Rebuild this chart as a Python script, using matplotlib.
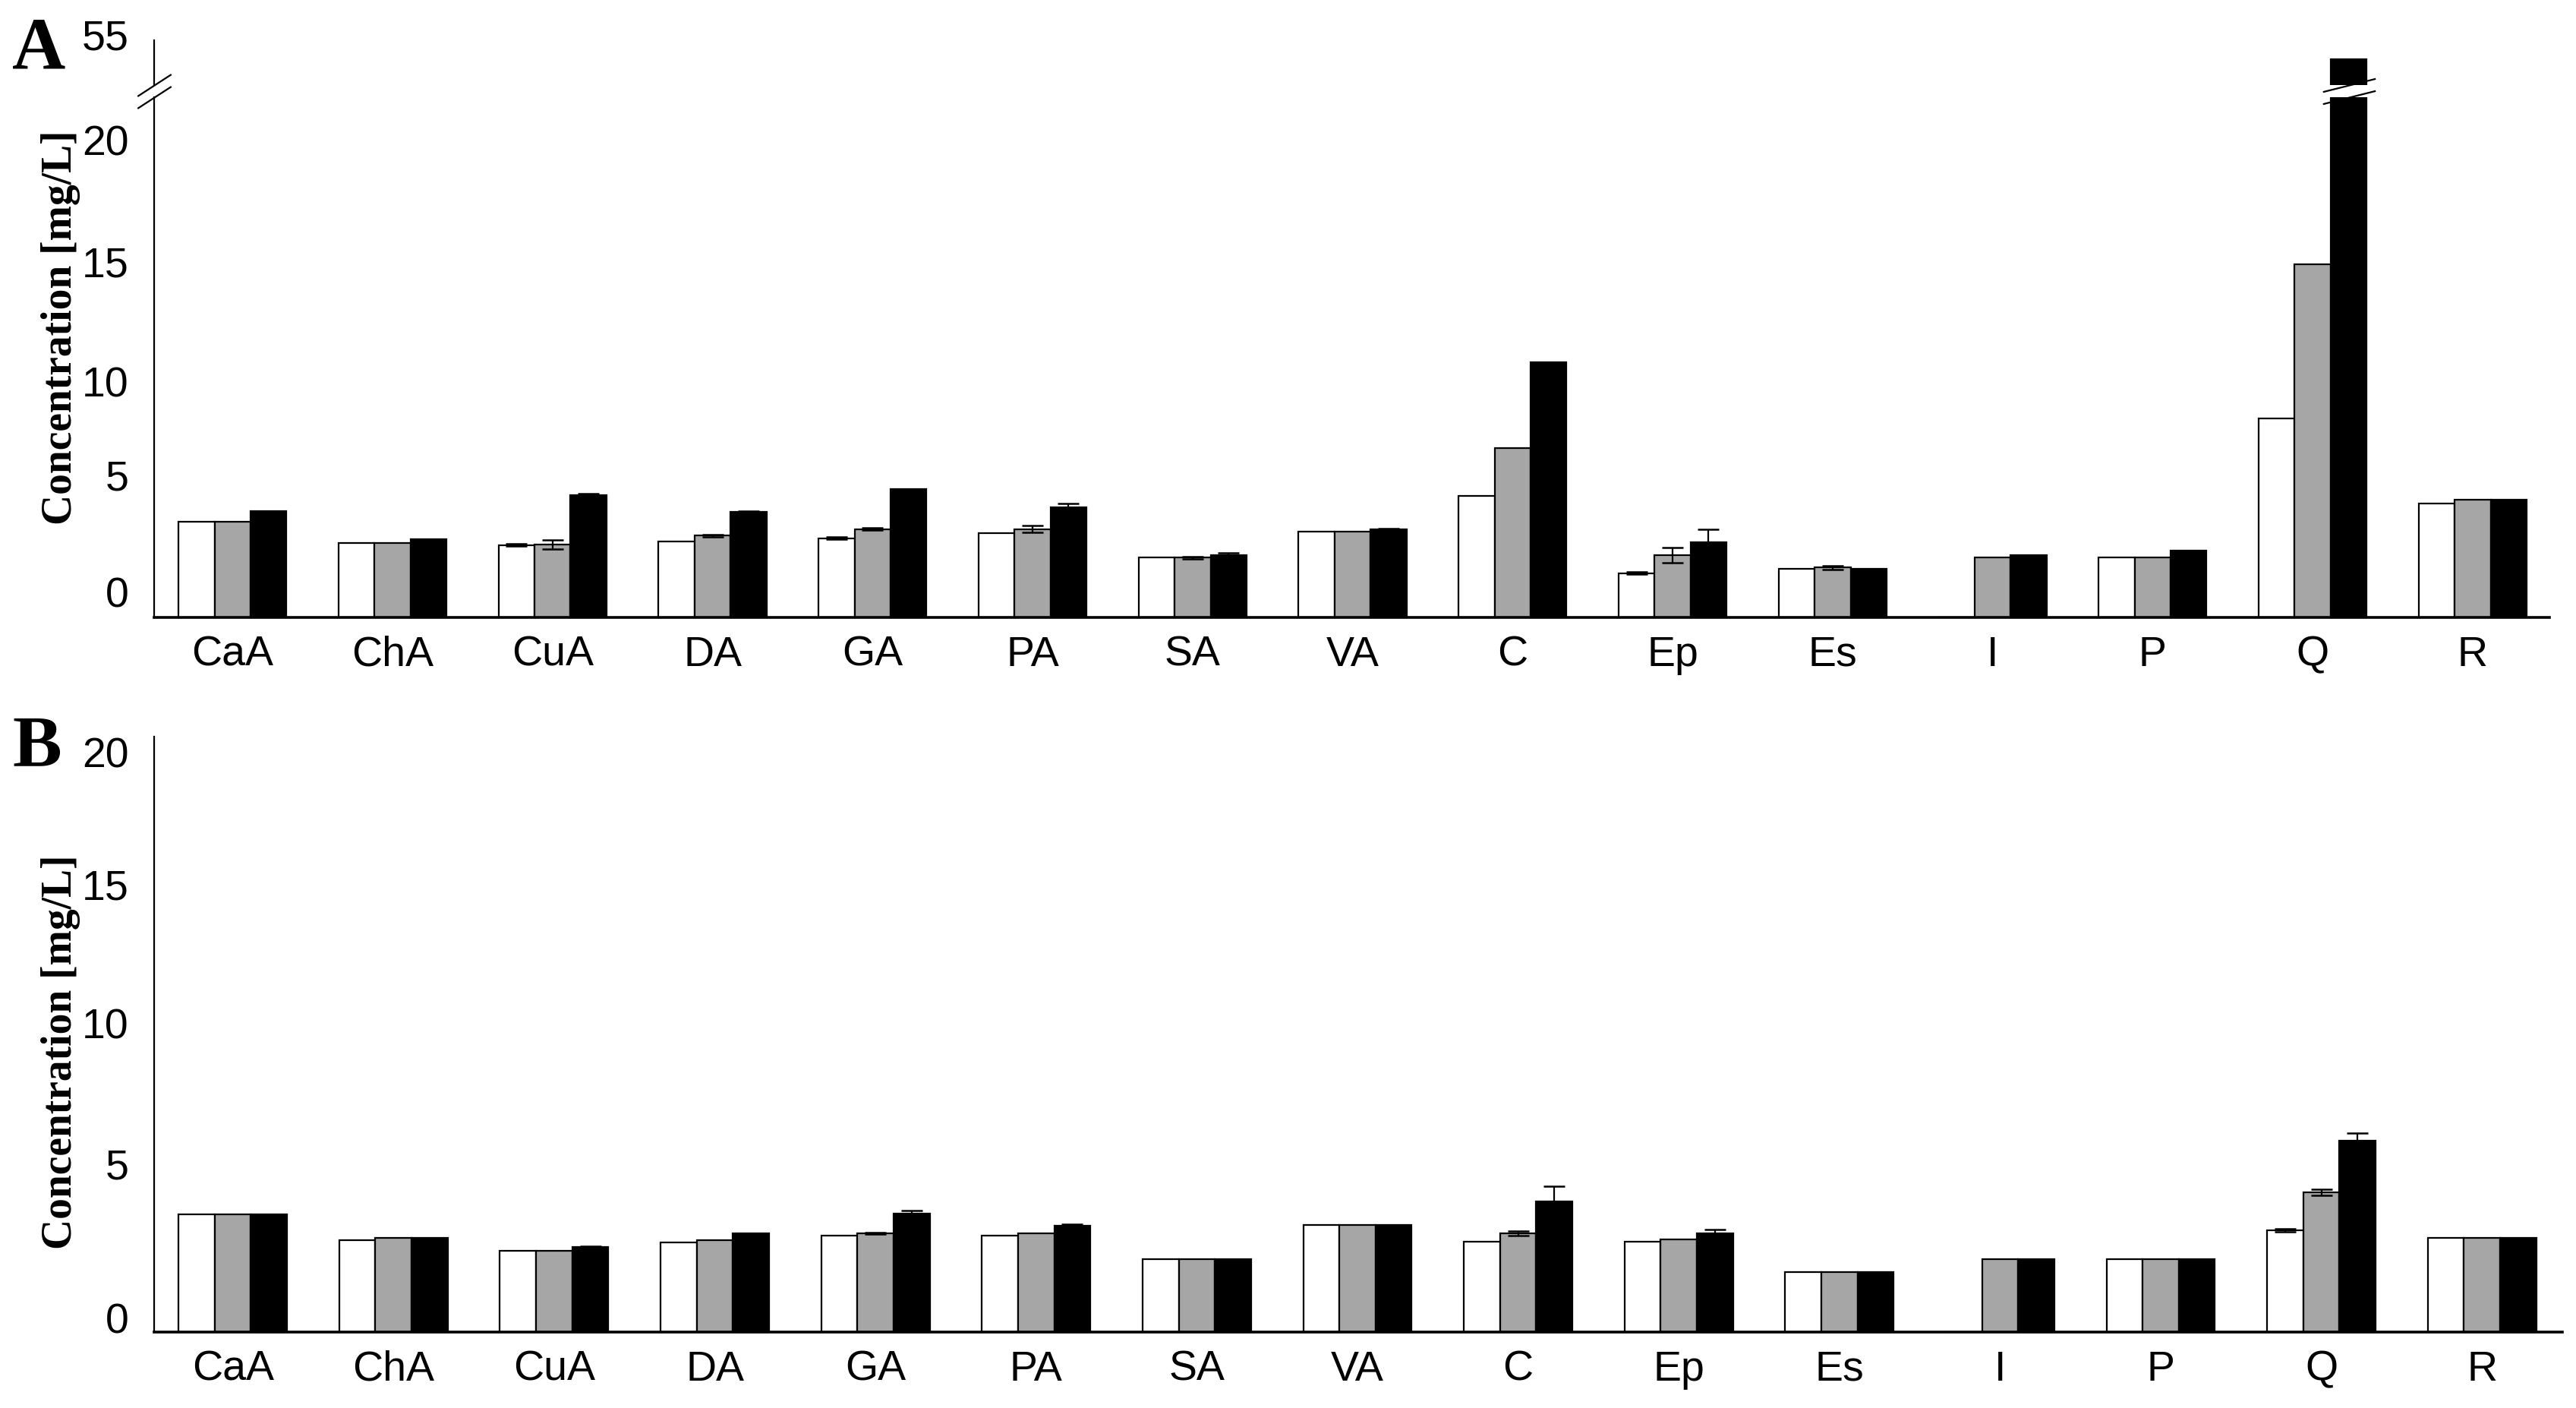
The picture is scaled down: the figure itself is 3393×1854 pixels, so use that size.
import numpy as np
import matplotlib
matplotlib.use("Agg")
import matplotlib.pyplot as plt
from matplotlib.transforms import ScaledTranslation

compounds = ["CaA", "ChA", "CuA", "DA", "GA", "PA", "SA", "VA",
             "C", "Ep", "Es", "I", "P", "Q", "R"]

# panel A values (mg/L)
a_white = [4.02, 3.11, 3.03, 3.19, 3.32, 3.53, 2.52, 3.59, 5.10, 1.85, 2.05, 0.0, 2.52, 8.34, 4.76]
a_gray = [4.02, 3.11, 3.06, 3.43, 3.70, 3.70, 2.50, 3.59, 7.10, 2.60, 2.10, 2.52, 2.52, 14.79, 4.92]
a_black = [4.46, 3.28, 5.12, 4.41, 5.39, 4.60, 2.61, 3.70, 10.70, 3.14, 2.05, 2.60, 2.79, 52.0, 4.93]
a_white_err = [0, 0, 0.05, 0, 0.05, 0, 0, 0, 0, 0.05, 0, 0, 0, 0, 0]
a_gray_err = [0, 0, 0.2, 0.05, 0.05, 0.15, 0.05, 0, 0, 0.32, 0.08, 0, 0, 0, 0]
a_black_err = [0, 0, 0.08, 0.05, 0, 0.16, 0.08, 0.03, 0, 0.56, 0, 0, 0, 0, 0]

# panel B values (mg/L)
b_white = [4.05, 3.17, 2.80, 3.09, 3.34, 3.34, 2.52, 3.70, 3.12, 3.12, 2.07, 0.0, 2.52, 3.51, 3.25]
b_gray = [4.05, 3.25, 2.80, 3.17, 3.41, 3.41, 2.52, 3.70, 3.41, 3.19, 2.07, 2.52, 2.52, 4.82, 3.25]
b_black = [4.05, 3.25, 2.93, 3.41, 4.10, 3.66, 2.52, 3.70, 4.52, 3.41, 2.07, 2.52, 2.52, 6.60, 3.25]
b_white_err = [0, 0, 0, 0, 0, 0, 0, 0, 0, 0, 0, 0, 0, 0.05, 0]
b_gray_err = [0, 0, 0, 0, 0.03, 0, 0, 0, 0.07, 0, 0, 0, 0, 0.1, 0]
b_black_err = [0, 0, 0.03, 0, 0.1, 0.07, 0, 0, 0.5, 0.13, 0, 0, 0, 0.27, 0]

yticks = [0, 5, 10, 15, 20]
colors = ["white", "#a6a6a6", "black"]
width = 0.225
W, H = 3393, 1854

fig = plt.figure(figsize=(W / 100, H / 100), dpi=100)
fig.patch.set_facecolor("white")


def draw_bars(ax, series, errs):
    x = np.arange(len(compounds))
    for k, (vals, err, col) in enumerate(zip(series, errs, colors)):
        pos = x + (k - 1) * width
        vals = np.array(vals)
        err = np.array(err)
        ax.bar(pos, vals, width, color=col, edgecolor="black", linewidth=1.6, zorder=2)
        m = err > 0
        ax.errorbar(pos[m], vals[m], yerr=err[m], fmt="none", ecolor="black",
                    elinewidth=1.6, capsize=10, capthick=1.8, zorder=3)


def style_axis(ax, shifts):
    for s in ["top", "right"]:
        ax.spines[s].set_visible(False)
    ax.spines["left"].set_linewidth(1.6)
    ax.spines["bottom"].set_linewidth(2.6)
    ax.set_xticks(np.arange(len(compounds)))
    ax.set_xticklabels(compounds, family="Liberation Sans", fontsize=40)
    ax.set_yticks(yticks)
    ax.set_yticklabels([str(t) for t in yticks], family="Liberation Sans", fontsize=40)
    ax.tick_params(axis="x", length=0, pad=17)
    ax.tick_params(axis="y", length=0, pad=24)
    # hand-placed labels in the original sit a bit higher than their values
    for tick, dy in zip(ax.yaxis.get_major_ticks(), shifts):
        lab = tick.label1
        lab.set_transform(lab.get_transform() + ScaledTranslation(0, dy / 100, fig.dpi_scale_trans))


def box(left, top, right, bottom):
    return [left / W, 1 - bottom / H, (right - left) / W, (bottom - top) / H]


# ---- panel A (broken axis) ----
axA = fig.add_axes(box(203, 128, 3358, 813))
axA_top = fig.add_axes(box(203, 45, 3358, 112))

draw_bars(axA, [a_white, a_gray, a_black], [a_white_err, a_gray_err, a_black_err])
draw_bars(axA_top, [a_white, a_gray, a_black], [a_white_err, a_gray_err, a_black_err])

axA.set_xlim(-0.49, 14.48)
axA.set_ylim(0, 21.8)
style_axis(axA, [34, 30, -4, -3, 0])

axA_top.set_xlim(-0.49, 14.48)
axA_top.set_ylim(49, 55)
for s in ["top", "right", "bottom"]:
    axA_top.spines[s].set_visible(False)
axA_top.spines["left"].set_linewidth(1.6)
axA_top.spines["left"].set_bounds(49, 54.3)
axA_top.set_xticks([])
axA_top.set_yticks([55])
axA_top.set_yticklabels(["55"], family="Liberation Sans", fontsize=40)
axA_top.tick_params(axis="y", length=0, pad=24)

# break marks on the axis
kw = dict(marker=[(-1, -0.65), (1, 0.65)], markersize=32, linestyle="none",
          color="black", mec="black", mew=1.6, clip_on=False)
axA.plot([0], [1], transform=axA.transAxes, **kw)
axA_top.plot([0], [0], transform=axA_top.transAxes, **kw)

# break marks on the Q bar
q = compounds.index("Q") + width
kwb = dict(marker=[(-1, -0.25), (1, 0.25)], markersize=50, linestyle="none",
           color="black", mec="black", mew=1.6, clip_on=False)
axA.plot([q], [21.8], **kwb)
axA_top.plot([q], [49], **kwb)

# ---- panel B ----
axB = fig.add_axes(box(203, 970, 3375, 1754))
draw_bars(axB, [b_white, b_gray, b_black], [b_white_err, b_gray_err, b_black_err])
axB.set_xlim(-0.49, 14.5)
axB.set_ylim(0, 20.55)
style_axis(axB, [18, 31, 25, 17, 0])

# axis titles and panel letters
for yc in [431, 1385]:
    fig.text(80 / W, 1 - yc / H, "Concentration [mg/L]", rotation=90,
             ha="center", va="center", family="Liberation Serif",
             weight="bold", fontsize=40)

fig.text(16 / W, 1 - 90 / H, "A", family="Liberation Serif", weight="bold",
         fontsize=70, ha="left", va="baseline")
fig.text(16 / W, 1 - 1009 / H, "B", family="Liberation Serif", weight="bold",
         fontsize=70, ha="left", va="baseline")

fig.savefig("out.png", dpi=100, facecolor="white")
